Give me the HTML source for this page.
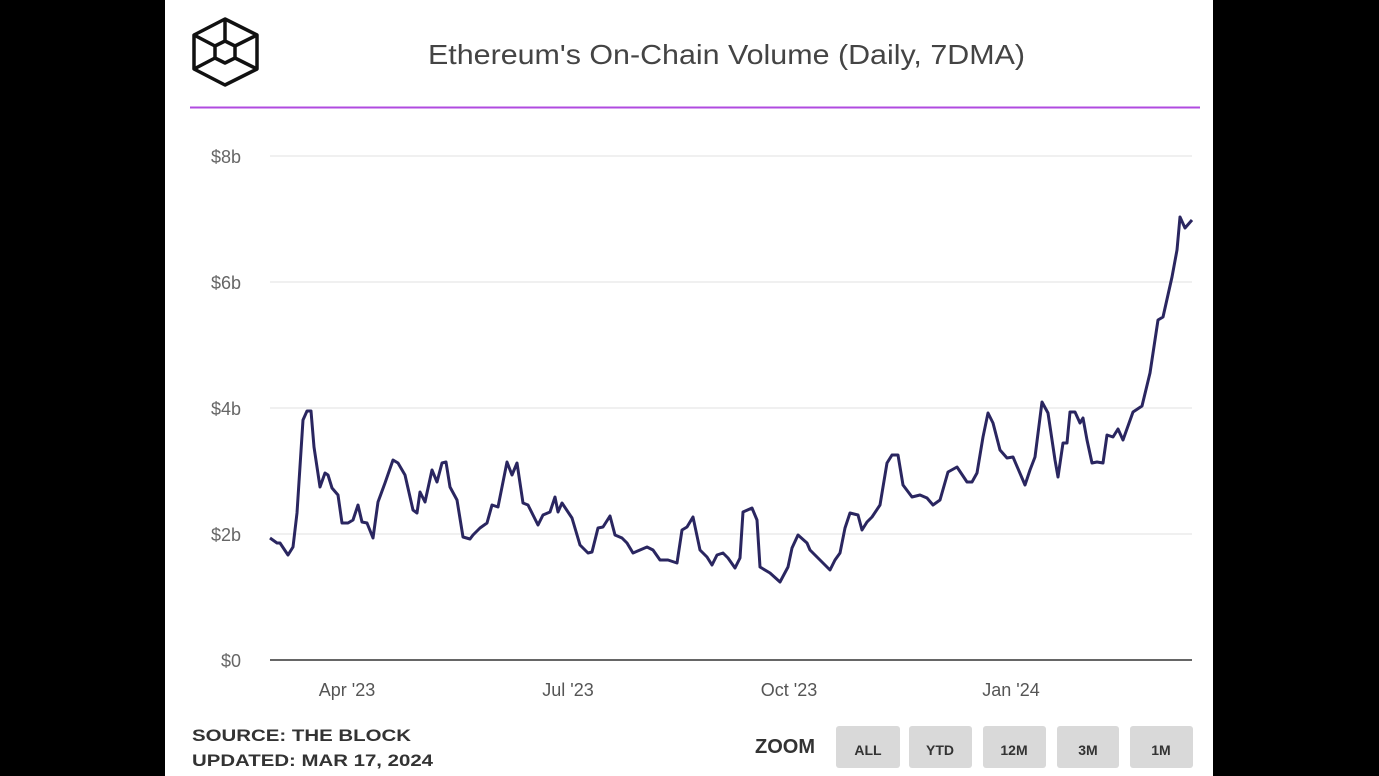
<!DOCTYPE html>
<html><head><meta charset="utf-8"><style>
html,body{margin:0;padding:0;background:#000;width:1379px;height:776px;overflow:hidden}
#p{position:absolute;left:165px;top:0;width:1048px;height:776px;background:#fff}
</style></head><body>
<div id="p"></div>
<svg width="1379" height="776" style="position:absolute;left:0;top:0" font-family="Liberation Sans, sans-serif">
<g fill="none" stroke="#111" stroke-width="3.5" stroke-linejoin="round">
<polygon points="225,19 257,35 257,69 225,85 194,69 194,35"/>
<polygon points="225,41 235,46 235,58 225,63 215,58 215,46"/>
<line x1="194" y1="35" x2="215" y2="46"/><line x1="257" y1="35" x2="235" y2="46"/>
<line x1="194" y1="69" x2="215" y2="58"/><line x1="257" y1="69" x2="235" y2="58"/>
<line x1="225" y1="19" x2="225" y2="41"/>
</g>
<text x="428" y="64" font-size="28" fill="#444" textLength="597" lengthAdjust="spacingAndGlyphs">Ethereum's On-Chain Volume (Daily, 7DMA)</text>
<line x1="190" y1="107.5" x2="1200" y2="107.5" stroke="#b04be0" stroke-width="2"/>
<g stroke="#ebebeb" stroke-width="1.5">
<line x1="270" y1="156" x2="1192" y2="156"/><line x1="270" y1="282" x2="1192" y2="282"/>
<line x1="270" y1="408" x2="1192" y2="408"/><line x1="270" y1="534" x2="1192" y2="534"/>
</g>
<line x1="270" y1="660" x2="1192" y2="660" stroke="#333" stroke-width="1.5"/>
<g font-size="18" fill="#666" text-anchor="end">
<text x="241" y="163">$8b</text><text x="241" y="289">$6b</text><text x="241" y="415">$4b</text>
<text x="241" y="541">$2b</text><text x="241" y="667">$0</text>
</g>
<g font-size="18" fill="#555" text-anchor="middle">
<text x="347" y="696">Apr '23</text><text x="568" y="696">Jul '23</text>
<text x="789" y="696">Oct '23</text><text x="1011" y="696">Jan '24</text>
</g>
<polyline fill="none" stroke="#2a2660" stroke-width="3" stroke-linejoin="round" points="270,538 277,543 280,543 288,555 293,547 297,513 303,420 307,411 311,411 314,447 320,487 325,473 328,475 332,488 338,495 342,523 348,523 353,520 358,505 362,522 367,523 373,538 378,502 385,483 393,460 398,463 405,475 413,510 417,513 420,492 425,502 432,470 437,482 442,463 446,462 450,487 457,500 463,537 470,539 473,535 480,528 487,523 492,505 498,507 507,462 512,475 517,463 523,503 528,505 533,515 538,525 543,515 550,512 555,497 558,512 562,503 572,518 580,545 588,553 592,552 598,528 603,527 610,516 615,535 622,538 627,543 633,553 640,550 647,547 653,550 660,560 668,560 677,563 682,530 687,527 693,517 700,550 707,557 712,565 717,555 723,553 728,558 735,568 740,558 743,512 752,508 757,520 760,567 770,573 780,582 788,567 792,548 798,535 807,543 810,550 817,557 830,570 835,560 840,553 845,528 850,513 858,515 862,530 867,522 872,517 880,505 887,463 892,455 898,455 903,485 912,497 920,495 927,498 933,505 940,500 948,472 957,467 967,482 972,482 977,473 983,437 988,413 993,423 1000,450 1007,458 1013,457 1025,485 1030,470 1035,457 1042,402 1048,413 1055,460 1058,477 1063,443 1067,443 1070,412 1075,412 1080,423 1083,418 1087,440 1092,463 1097,462 1103,463 1107,435 1113,437 1118,429 1123,440 1133,412 1142,406 1150,373 1158,320 1163,317 1172,277 1177,250 1180,217 1185,228 1192,220"/>
<g font-size="17" fill="#333" font-weight="bold">
<text x="192" y="741" textLength="219" lengthAdjust="spacingAndGlyphs">SOURCE: THE BLOCK</text><text x="192" y="766" textLength="241" lengthAdjust="spacingAndGlyphs">UPDATED: MAR 17, 2024</text>
</g>
<text x="755" y="753" font-size="20" fill="#333" font-weight="bold">ZOOM</text>
<g fill="#d9d9d9">
<rect x="836" y="726" width="64" height="42" rx="3"/><rect x="909" y="726" width="63" height="42" rx="3"/>
<rect x="983" y="726" width="63" height="42" rx="3"/><rect x="1057" y="726" width="62" height="42" rx="3"/>
<rect x="1130" y="726" width="63" height="42" rx="3"/>
</g>
<g font-size="14" fill="#333" font-weight="bold" text-anchor="middle">
<text x="868" y="755">ALL</text><text x="940" y="755">YTD</text><text x="1014" y="755">12M</text>
<text x="1088" y="755">3M</text><text x="1161" y="755">1M</text>
</g>
</svg>
</body></html>
